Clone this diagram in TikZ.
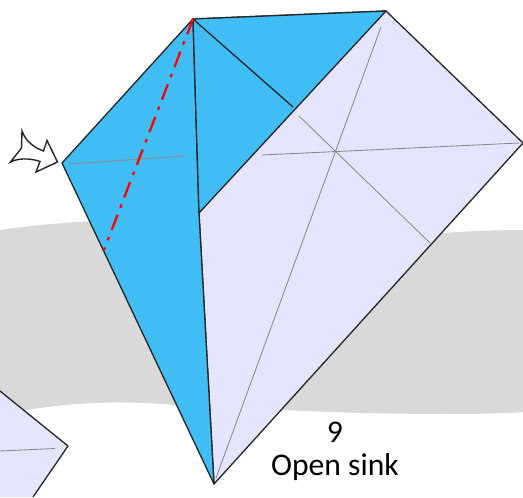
\documentclass[tikz,border=0pt]{standalone}
\usepackage{fontspec}
\setmainfont{Carlito}
\definecolor{flapblue}{HTML}{40BDF4}
\definecolor{paperlilac}{HTML}{E5E5FF}
\definecolor{bandgray}{HTML}{D9D9D9}
\definecolor{creasegray}{HTML}{8C8C8C}
\begin{document}
\begin{tikzpicture}[
    x=0.02cm,
    y=-0.02cm,
    every node/.style={
        font=\fontsize{18}{20}\selectfont,
        align=center,
        inner sep=0pt
    },
    band/.style={
        fill=bandgray
    },
    paper/.style={
        fill=paperlilac,
        draw=black!85,
        line width=0.75pt,
        line join=round
    },
    flap/.style={
        fill=flapblue,
        draw=black!85,
        line width=0.75pt,
        line join=round
    },
    fold/.style={
        draw=black!85,
        line width=0.75pt,
        line join=round
    },
    crease/.style={
        draw=creasegray,
        line width=0.5pt
    },
    sinkline/.style={
        draw=red,
        line width=1.3pt,
        dash pattern=on 9.3pt off 4.3pt on 2pt off 4.3pt
    },
    pointer/.style={
        fill=white,
        draw=black!85,
        line width=0.8pt,
        line join=miter
    }
]

\useasboundingbox (0,0) rectangle (523,497);

% background band
\fill[band] (0,230) .. controls (60,221) and (130,218) .. (210,222)
    -- (443,233) .. controls (470,231) and (500,230) .. (523,230)
    -- (523,412) .. controls (480,415) and (420,414) .. (360,413)
    .. controls (300,411) and (240,408) .. (175,405)
    .. controls (120,400) and (60,402) .. (0,415) -- cycle;

% corners of the model
\coordinate (top) at (193,19);
\coordinate (topright) at (386,11);
\coordinate (right) at (523,143);
\coordinate (bottom) at (214,484);
\coordinate (left) at (62,163);
\coordinate (inner) at (293,107);
\coordinate (junction) at (199,213);

\filldraw[paper] (top) -- (topright) -- (right) -- (bottom) -- (junction) -- cycle;
\filldraw[flap] (left) -- (top) -- (junction) -- (bottom) -- cycle;
\filldraw[flap] (top) -- (topright) -- (junction) -- cycle;
\draw[fold] (top) -- (inner);

% creases
\draw[crease] (69,164) -- (184,156);
\draw[crease] (262,155) -- (519,143);
\draw[crease] (381,27) -- (216,478);
\draw[crease] (299,116) -- (430,243);

% fold line for the sink
\coordinate (sinkend) at (104,250);
\draw[sinkline] (top) -- (sinkend);

% arrow pointing at the corner
\filldraw[pointer] (22,131) -- (21.5,148) -- (10.5,162)
    .. controls (18,158) and (30,158) .. (40,161.5)
    -- (36,172) -- (57.5,162) -- (47,140.5) -- (43.5,151)
    .. controls (35,148) and (26,142) .. (22,131) -- cycle;

% next model, cut off at the corner
\fill[paperlilac] (0,391) -- (68,446) -- (33,497) -- (0,497) -- cycle;
\draw[fold] (0,391) -- (68,446) -- (33,497);
\draw[crease] (0,451) -- (55,448.5);

\node (stepnumber) at (335,432) {9};
\node (stepname) at (335,467) {Open sink};

\end{tikzpicture}
\end{document}
